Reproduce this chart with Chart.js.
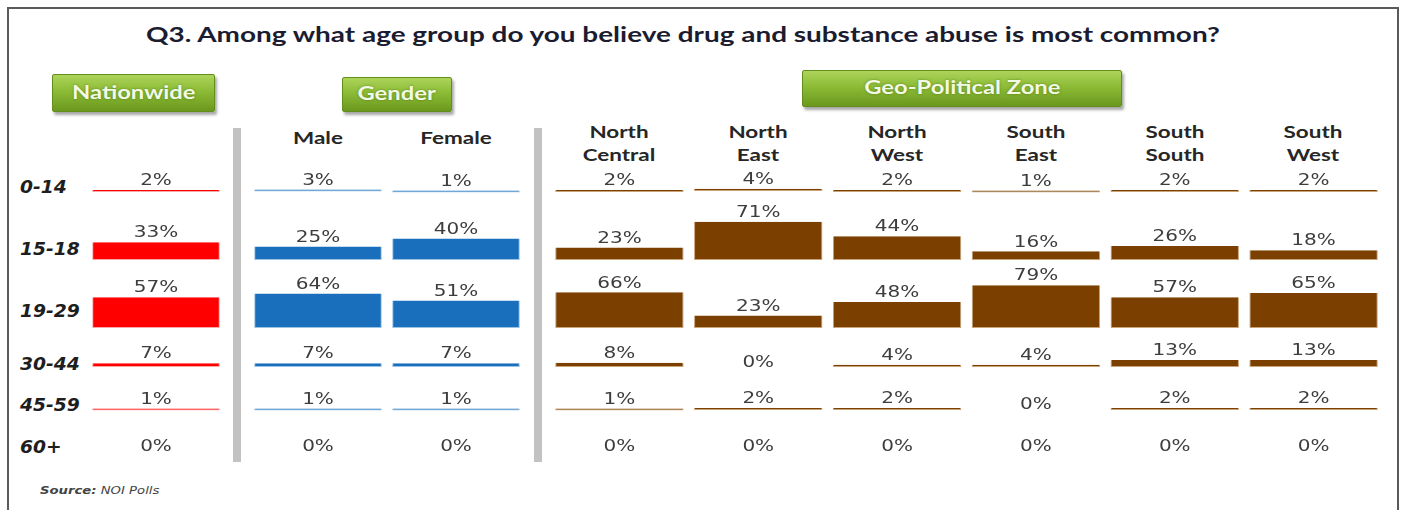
<!DOCTYPE html>
<html><head><meta charset="utf-8">
<script src="https://cdn.jsdelivr.net/npm/chart.js@4.4.0/dist/chart.umd.min.js"></script>
<style>
html,body{margin:0;padding:0;background:#fff;}
body{width:1404px;height:510px;overflow:hidden;position:relative;font-family:Lato,"DejaVu Sans",sans-serif;}
.frame{position:absolute;left:7px;top:7px;width:1392px;height:520px;border:2px solid #5a5a5a;box-sizing:border-box;}
.title{position:absolute;top:20px;white-space:nowrap;font-weight:bold;font-size:21px;line-height:28px;color:#1c1c30;transform-origin:0 0;}
.btn{position:absolute;font-weight:bold;font-size:18px;text-align:center;
 background:linear-gradient(#acd45a,#8cbb36 45%,#6b981d);border:1px solid #638e1b;border-radius:2px;
 box-shadow:2px 3px 3px rgba(0,0,0,0.35);box-sizing:border-box;}
.btn span{display:inline-block;color:#f2f9e4;text-shadow:0 0 2px rgba(70,100,10,0.7);transform:scaleX(1.32);}
.sep{position:absolute;top:128px;width:8px;height:334px;background:#c2c2c2;}
.head{position:absolute;width:160px;text-align:center;font-weight:bold;font-size:17px;line-height:23px;color:#262626;transform:scaleX(1.32);}
.row{position:absolute;left:20px;font-family:"DejaVu Sans",sans-serif;font-weight:bold;font-style:italic;font-size:17px;color:#1e1e1e;line-height:20px;transform:scaleX(1.1);transform-origin:0 0;}
.src{position:absolute;left:40px;top:484px;font-family:"DejaVu Sans",sans-serif;font-size:11px;font-style:italic;color:#444;transform:scaleX(1.2);transform-origin:0 0;}
canvas{position:absolute;}
</style></head>
<body>
<div class="frame"></div>
<div class="title" id="title"></div>
<div class="src"><b>Source:</b> NOI Polls</div>
<script>
// ---------- data ----------
const chartTitle = 'Q3. Among what age group do you believe drug and substance abuse is most common?';
const ageGroups = ['0-14', '15-18', '19-29', '30-44', '45-59', '60+'];
const groupNames = ['Nationwide', 'Gender', 'Geo-Political Zone'];
const nationwideLabels = ['Nationwide'];
const genderLabels = [['Male'], ['Female']];
const zoneLabels = [['North', 'Central'], ['North', 'East'], ['North', 'West'], ['South', 'East'], ['South', 'South'], ['South', 'West']];
const nationwide   = [2, 33, 57, 7, 1, 0];
const male         = [3, 25, 64, 7, 1, 0];
const female       = [1, 40, 51, 7, 1, 0];
const northCentral = [2, 23, 66, 8, 1, 0];
const northEast    = [4, 71, 23, 0, 2, 0];
const northWest    = [2, 44, 48, 4, 2, 0];
const southEast    = [1, 16, 79, 4, 0, 0];
const southSouth   = [2, 26, 57, 13, 2, 0];
const southWest    = [2, 18, 65, 13, 2, 0];

// ---------- layout ----------
const PLOT_TOP = 160, PLOT_H = 310;
const ROW_BASE = [191, 260, 328, 367, 409, 451];
const ROW_LABEL_Y = [187, 249, 311, 364, 405, 447];
const PX_PER_PCT = 0.54;

// title, stretched to the reference width
const t = document.getElementById('title');
t.textContent = chartTitle;
const mc = document.createElement('canvas').getContext('2d');
mc.font = 'bold 21px Lato';
const tw = mc.measureText(chartTitle).width;
const TITLE_L = 146, TITLE_R = 1222;
t.style.left = TITLE_L + 'px';
t.style.transform = 'scaleX(' + ((TITLE_R - TITLE_L) / tw) + ')';

function addBox(text, l, t, w, h) {
  const d = document.createElement('div');
  d.className = 'btn';
  const s = document.createElement('span'); s.textContent = text; d.appendChild(s);
  Object.assign(d.style, {left: l + 'px', top: t + 'px', width: w + 'px', height: h + 'px', lineHeight: (h - 4) + 'px'});
  document.body.appendChild(d);
}
addBox(groupNames[0], 52, 74, 163, 38);
addBox(groupNames[1], 342, 77, 110, 35);
addBox(groupNames[2], 802, 70, 320, 37);

function addSep(x) {
  const d = document.createElement('div'); d.className = 'sep'; d.style.left = x + 'px';
  document.body.appendChild(d);
}
addSep(233); addSep(534);

ageGroups.forEach((a, r) => {
  const d = document.createElement('div'); d.className = 'row'; d.textContent = a;
  d.style.top = (ROW_LABEL_Y[r] - 10) + 'px';
  document.body.appendChild(d);
});

function addHeads(labels, left, pitch) {
  labels.forEach((lines, i) => {
    const d = document.createElement('div'); d.className = 'head';
    d.innerHTML = lines.join('<br>');
    const cx = left + pitch * (i + 0.5);
    d.style.left = (cx - 80) + 'px';
    d.style.top = (lines.length === 1 ? 126 : 120) + 'px';
    document.body.appendChild(d);
  });
}
addHeads(genderLabels, 249, 138);
addHeads(zoneLabels, 550, 138.8);

function makeChart(left, width, labels, series, color, edge) {
  const cv = document.createElement('canvas');
  cv.width = width; cv.height = PLOT_H;
  cv.style.left = left + 'px'; cv.style.top = PLOT_TOP + 'px';
  document.body.appendChild(cv);
  const datasets = ageGroups.map((a, r) => ({
    label: a,
    data: series.map(s => s[r] === 0 ? null : [ROW_BASE[r] - PLOT_TOP, ROW_BASE[r] - PLOT_TOP - s[r] * PX_PER_PCT]),
    backgroundColor: color,
    borderColor: edge,
    borderWidth: 1,
    minBarLength: 2,
    barPercentage: 0.925,
    categoryPercentage: 1
  }));
  const valueLabels = {
    id: 'valueLabels',
    afterDatasetsDraw(chart) {
      const {ctx, scales: {x, y}} = chart;
      ctx.save();
      ctx.font = '16px "DejaVu Sans"';
      ctx.fillStyle = '#3d3d3d';
      ctx.textAlign = 'center';
      ctx.textBaseline = 'middle';
      series.forEach((s, i) => {
        const cx = x.getPixelForValue(i);
        s.forEach((v, r) => {
          const base = ROW_BASE[r] - PLOT_TOP;
          const top = y.getPixelForValue(base - v * PX_PER_PCT);
          ctx.save();
          ctx.translate(cx, v === 0 ? top - 4 : top - 9);
          ctx.scale(1.25, 1);
          ctx.fillText(v + '%', 0, 0);
          ctx.restore();
        });
      });
      ctx.restore();
    }
  };
  return new Chart(cv, {
    type: 'bar',
    data: {labels: labels.map(l => [].concat(l).join(' ')), datasets},
    options: {
      responsive: false, animation: false,
      layout: {padding: 0},
      plugins: {legend: {display: false}, tooltip: {enabled: false}},
      scales: {
        x: {type: 'category', stacked: true, display: false, offset: true},
        y: {type: 'linear', min: 0, max: PLOT_H, reverse: true, display: false}
      }
    },
    plugins: [valueLabels]
  });
}

makeChart(87, 138, nationwideLabels, [nationwide], '#ff0000', '#f7a8a8');
makeChart(249, 276, genderLabels, [male, female], '#1a6fbd', '#9cc4e6');
makeChart(550, 833, zoneLabels, [northCentral, northEast, northWest, southEast, southSouth, southWest], '#7b4000', '#c9a37a');
</script>
</body></html>
